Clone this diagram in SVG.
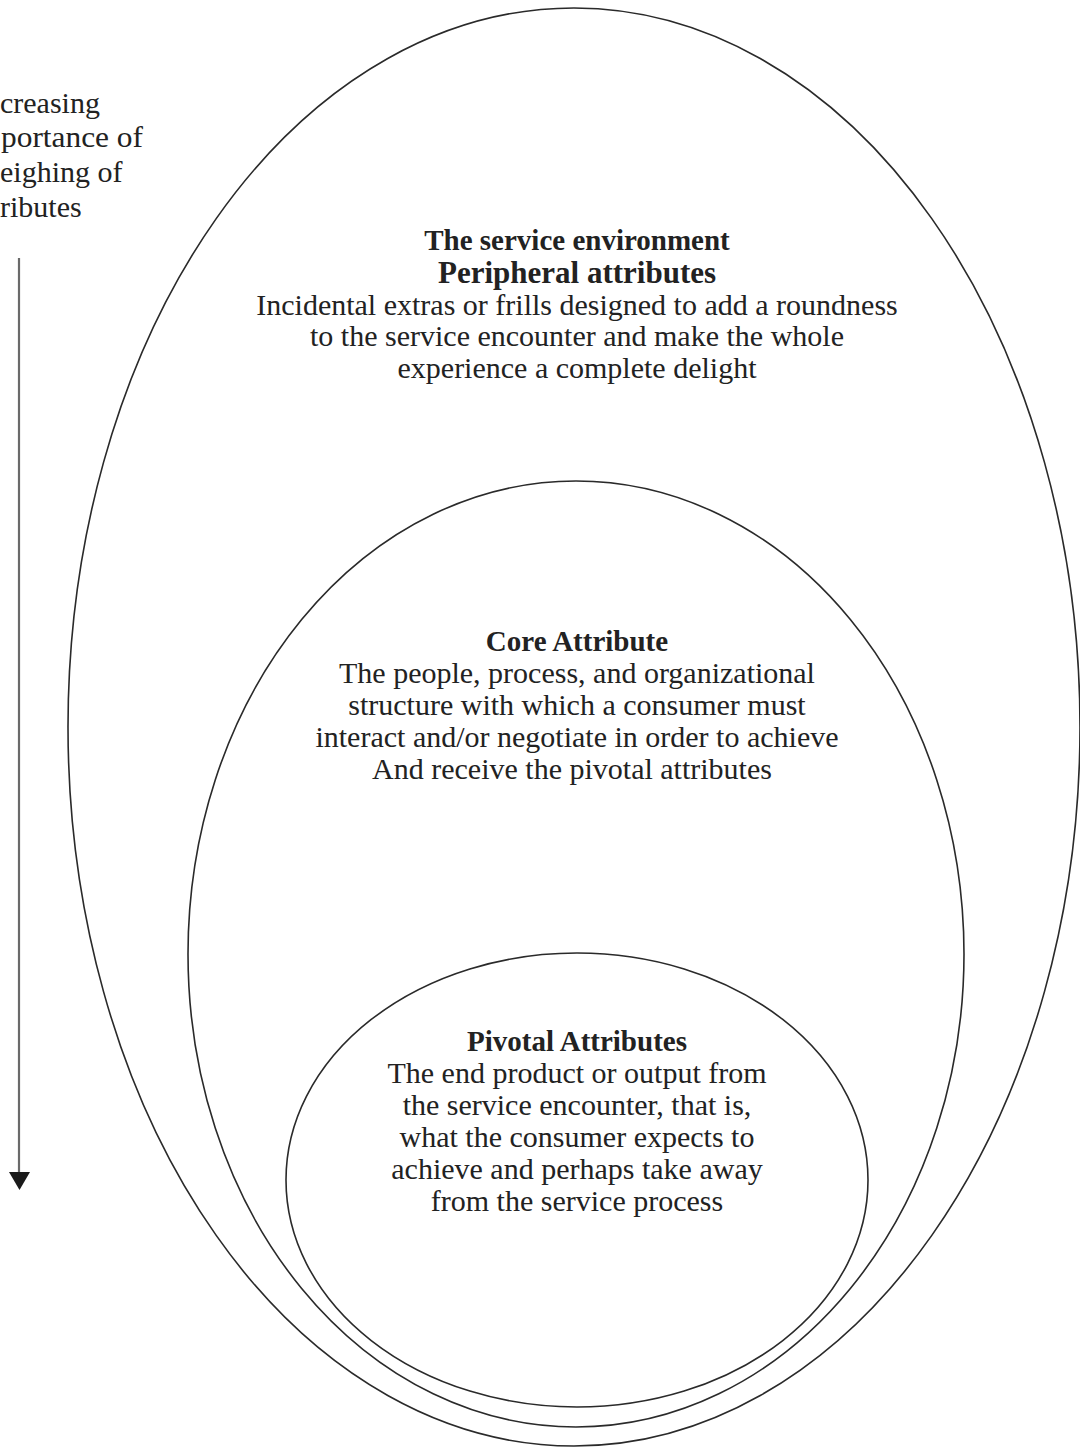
<svg xmlns="http://www.w3.org/2000/svg" width="1080" height="1450" viewBox="0 0 1080 1450">
  <style>
    .ring { fill: none; stroke: #2a2a2a; stroke-width: 1.6; }
    .t { font-family: "Liberation Serif", "Times New Roman", serif; fill: #222; text-anchor: middle; }
    .body { font-size: 30px; }
    .head { font-size: 29px; font-weight: bold; }
    .side { font-family: "Liberation Serif", "Times New Roman", serif; fill: #222; font-size: 30px; text-anchor: start; }
  </style>
  <rect width="1080" height="1450" fill="#ffffff"/>

  <!-- side label at the left page edge -->
  <g id="side-label">
    <text class="side" x="0" y="113">creasing</text>
    <text class="side" x="1" y="147" textLength="142" lengthAdjust="spacingAndGlyphs">portance of</text>
    <text class="side" x="0" y="182">eighing of</text>
    <text class="side" x="0" y="217">ributes</text>
  </g>

  <!-- downward arrow -->
  <g id="connectors">
    <line x1="19" y1="258" x2="19" y2="1174" stroke="#6a6a6a" stroke-width="2.2"/>
    <polygon points="9,1172 30,1172 19.5,1190" fill="#1a1a1a"/>
  </g>

  <!-- outer ring: service environment / peripheral attributes -->
  <g id="peripheral">
    <ellipse class="ring" cx="574" cy="727" rx="506" ry="719"/>
    <text class="t head" x="577" y="250">The service environment</text>
    <text class="t head" x="577" y="283" style="font-size:31px">Peripheral attributes</text>
    <text class="t body" x="577" y="315">Incidental extras or frills designed to add a roundness</text>
    <text class="t body" x="577" y="346">to the service encounter and make the whole</text>
    <text class="t body" x="577" y="378">experience a complete delight</text>
  </g>

  <!-- middle ring: core attribute -->
  <g id="core">
    <ellipse class="ring" cx="576" cy="954" rx="388" ry="473"/>
    <text class="t head" x="577" y="651">Core Attribute</text>
    <text class="t body" x="577" y="683">The people, process, and organizational</text>
    <text class="t body" x="577" y="715">structure with which a consumer must</text>
    <text class="t body" x="577" y="747">interact and/or negotiate in order to achieve</text>
    <text class="t body" x="572" y="779">And receive the pivotal attributes</text>
  </g>

  <!-- inner ring: pivotal attributes -->
  <g id="pivotal">
    <ellipse class="ring" cx="577" cy="1180" rx="291" ry="227"/>
    <text class="t head" x="577" y="1051">Pivotal Attributes</text>
    <text class="t body" x="577" y="1083">The end product or output from</text>
    <text class="t body" x="577" y="1115">the service encounter, that is,</text>
    <text class="t body" x="577" y="1147">what the consumer expects to</text>
    <text class="t body" x="577" y="1179">achieve and perhaps take away</text>
    <text class="t body" x="577" y="1211">from the service process</text>
  </g>
</svg>
